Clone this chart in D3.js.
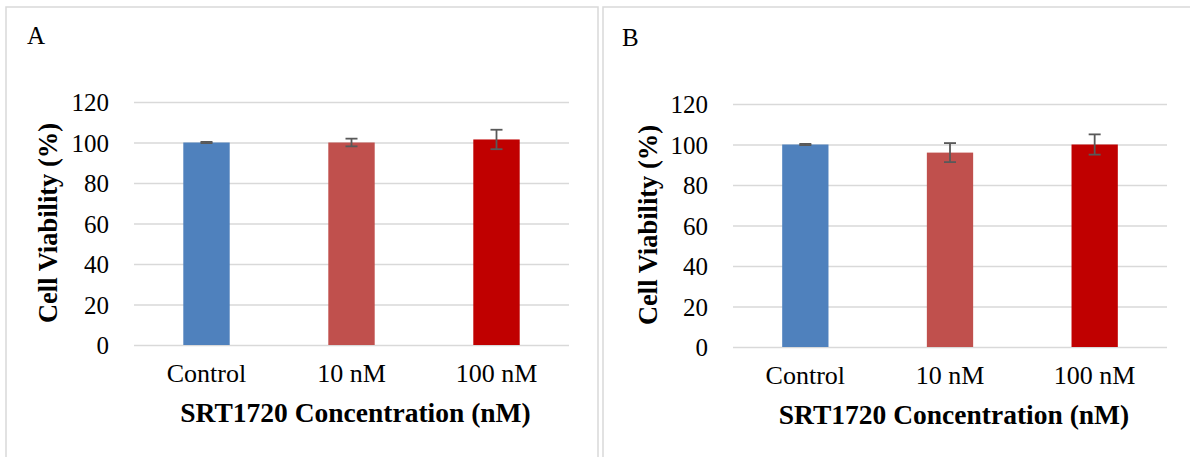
<!DOCTYPE html>
<html>
<head>
<meta charset="utf-8">
<script src="https://cdn.jsdelivr.net/npm/d3@7"></script>
<style>
  body { margin: 0; background: #fff; }
  svg { display: block; }
</style>
</head>
<body>
<svg id="chart" width="1190" height="457"></svg>
<script>
// chart data
var categories = ['Control', '10 nM', '100 nM'];
var valuesA = [100, 100, 101.5];
var errorsA = [0.3, 1.9, 4.8];
var valuesB = [100, 96, 100];
var errorsB = [0.3, 4.7, 5.0];
var yTicks = [0, 20, 40, 60, 80, 100, 120];
var barColors = ['#4F81BD', '#C0504D', '#C00000'];

var serif = "'Liberation Serif', 'Times New Roman', serif";
var svg = d3.select('#chart');

// draw one panel of the figure
function drawPanel(opt, values, errors) {
  var g = svg.append('g');

  // panel frame
  g.append('rect')
    .attr('x', opt.box[0]).attr('y', opt.box[1])
    .attr('width', opt.box[2]).attr('height', opt.box[3])
    .attr('fill', '#fff').attr('stroke', '#d9d9d9').attr('stroke-width', 1.5);

  g.append('text')
    .attr('x', opt.labelX).attr('y', opt.labelY)
    .attr('font-family', serif).attr('font-size', 25)
    .text(opt.label);

  var x = d3.scaleBand().domain(categories).range([opt.left, opt.right])
    .paddingInner(0.68).paddingOuter(0.34);
  var y = d3.scaleLinear().domain([0, 120]).range([opt.bottom, opt.top]);

  // gridlines + y tick labels
  var yAxis = d3.axisLeft(y).tickValues(yTicks).tickSize(-(opt.right - opt.left)).tickPadding(25);
  var ya = g.append('g').attr('transform', 'translate(' + opt.left + ',0)').call(yAxis)
    .attr('font-family', serif).attr('font-size', 25);
  ya.select('.domain').remove();
  ya.selectAll('line').attr('stroke', '#d9d9d9').attr('stroke-width', 1.5);
  ya.selectAll('text').attr('fill', '#000').attr('dy', '0.34em');

  // category labels
  var xAxis = d3.axisBottom(x).tickSize(0).tickPadding(0);
  var xa = g.append('g').attr('transform', 'translate(0,' + opt.bottom + ')').call(xAxis)
    .attr('font-family', serif).attr('font-size', 26);
  xa.select('.domain').remove();
  xa.selectAll('text').attr('fill', '#000').attr('dy', null).attr('y', 37);

  // bars
  g.selectAll('.bar').data(categories).enter().append('rect')
    .attr('x', function (d) { return x(d); })
    .attr('y', function (d, i) { return y(values[i]); })
    .attr('width', x.bandwidth())
    .attr('height', function (d, i) { return y(0) - y(values[i]); })
    .attr('fill', function (d, i) { return barColors[i]; });

  // error bars
  var eb = g.selectAll('.err').data(categories).enter().append('g')
    .attr('stroke', '#595959').attr('stroke-width', 1.8);
  eb.append('line')
    .attr('x1', function (d) { return x(d) + x.bandwidth() / 2; })
    .attr('x2', function (d) { return x(d) + x.bandwidth() / 2; })
    .attr('y1', function (d, i) { return y(values[i] + errors[i]); })
    .attr('y2', function (d, i) { return y(values[i] - errors[i]); });
  [1, -1].forEach(function (s) {
    eb.append('line')
      .attr('x1', function (d) { return x(d) + x.bandwidth() / 2 - 6; })
      .attr('x2', function (d) { return x(d) + x.bandwidth() / 2 + 6; })
      .attr('y1', function (d, i) { return y(values[i] + s * errors[i]); })
      .attr('y2', function (d, i) { return y(values[i] + s * errors[i]); });
  });

  // axis titles
  g.append('text')
    .attr('x', (opt.left + opt.right) / 2 + 4).attr('y', opt.bottom + 77)
    .attr('text-anchor', 'middle')
    .attr('font-family', serif).attr('font-size', 27.5).attr('font-weight', 'bold')
    .text('SRT1720 Concentration (nM)');

  g.append('text')
    .attr('transform', 'translate(' + opt.yTitleX + ',' + opt.yTitleY + ') rotate(-90)')
    .attr('text-anchor', 'middle')
    .attr('font-family', serif).attr('font-size', 26.5).attr('font-weight', 'bold')
    .text('Cell Viability (%)');
}

drawPanel({
  box: [6, 7, 592, 470], label: 'A', labelX: 27, labelY: 44,
  left: 134, right: 569, top: 102, bottom: 345,
  yTitleX: 57, yTitleY: 223
}, valuesA, errorsA);

drawPanel({
  box: [603, 7, 600, 470], label: 'B', labelX: 622, labelY: 46,
  left: 733, right: 1167, top: 104, bottom: 347,
  yTitleX: 657, yTitleY: 225
}, valuesB, errorsB);
</script>
</body>
</html>
